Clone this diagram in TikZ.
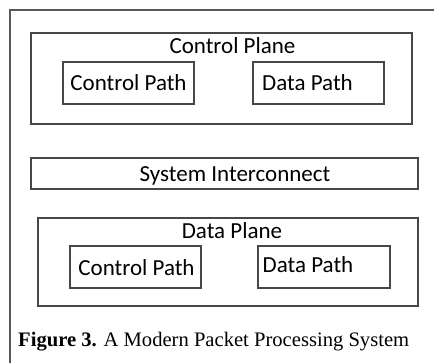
\documentclass[tikz,border=0pt]{standalone}
\usepackage{fontspec}
\setmainfont{Carlito}
\newfontfamily\captionfont{Liberation Serif}
\usetikzlibrary{positioning}
\tikzset{
  unit/.style={rectangle,draw=black!72,line width=1.5pt,inner sep=0pt,
    anchor=north west},
  frame/.style={unit,draw=black!65},
  lbl/.style={inner sep=0pt,anchor=base,font=\fontsize{23}{27}\selectfont},
  caption/.style={inner sep=0pt,anchor=base west,
    font=\captionfont\fontsize{20.6}{24}\selectfont}
}

\begin{document}
\begin{tikzpicture}[x=1pt,y=-1pt]
  \useasboundingbox (0,0) rectangle (434,362);
  % outer frame, runs off the page on the right and bottom
  \node[frame,minimum width=460pt,minimum height=400pt] (sys) at (9,9) {};

  % control plane
  \node[unit,minimum width=381pt,minimum height=91pt] (cplane) at (30,32) {};
  \node[lbl] (cplanetxt) at (232.5,53) {Control Plane};
  \node[unit,minimum width=131pt,minimum height=42pt] (cpathA) at (62,61) {};
  \node[lbl] (cpathAtxt) at (128.5,90) {Control Path};
  \node[unit,minimum width=131pt,minimum height=42pt] (dpathA) at (252,61) {};
  \node[lbl] (dpathAtxt) at (307.5,90) {Data Path};

  % interconnect
  \node[unit,minimum width=387pt,minimum height=31pt] (bus) at (30,157) {};
  \node[lbl] (bustxt) at (235,181) {System Interconnect};

  % data plane
  \node[unit,minimum width=380pt,minimum height=88pt] (dplane) at (37,217) {};
  \node[lbl] (dplanetxt) at (232,238) {Data Plane};
  \node[unit,minimum width=131pt,minimum height=42pt] (cpathB) at (69,245) {};
  \node[lbl] (cpathBtxt) at (136.5,275) {Control Path};
  \node[unit,minimum width=132pt,minimum height=42pt] (dpathB) at (257,245) {};
  \node[lbl] (dpathBtxt) at (308,272) {Data Path};

  \node[caption] (cap) at (18,346) {\textbf{Figure 3.} A Modern Packet Processing System};
\end{tikzpicture}
\end{document}
